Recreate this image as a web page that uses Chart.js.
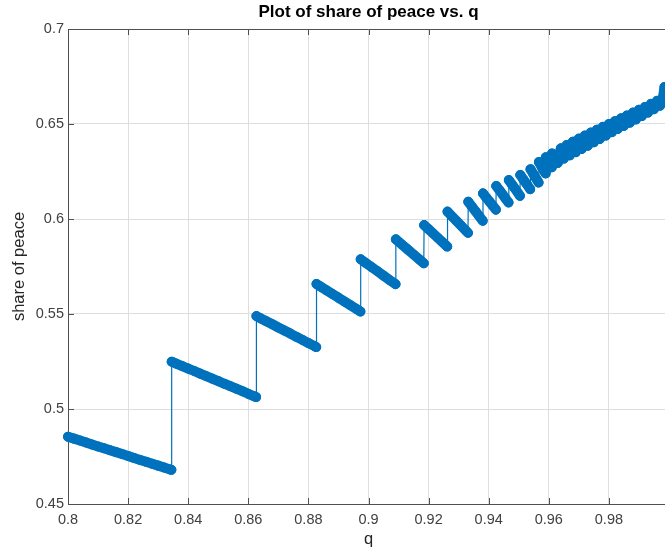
<!DOCTYPE html>
<html><head><meta charset="utf-8">
<script src="https://cdn.jsdelivr.net/npm/chart.js@4/dist/chart.umd.min.js"></script>
<style>
html,body{margin:0;padding:0;background:#fff;overflow:hidden;width:665px;height:548px}
#wrap{position:absolute;left:0;top:0;width:737px;height:548px}
canvas{display:block}
</style></head>
<body><div id="wrap"><canvas id="c" width="737" height="548"></canvas></div>
<script>
// ---- data ----
const q = [
 0.800,0.802,0.804,0.806,0.808,0.810,0.812,0.814,0.816,0.818,0.820,0.822,0.824,0.826,0.828,0.830,0.832,0.834,0.8344,
 0.8345,0.836,0.838,0.840,0.842,0.844,0.846,0.848,0.850,0.852,0.854,0.856,0.858,0.860,0.862,0.8626,
 0.8627,0.864,0.866,0.868,0.870,0.872,0.874,0.876,0.878,0.880,0.882,0.8826,
 0.8827,0.884,0.886,0.888,0.890,0.892,0.894,0.896,0.8973,
 0.8974,0.899,0.901,0.903,0.905,0.907,0.9090,
 0.9091,0.911,0.913,0.915,0.917,0.9184,
 0.9185,0.920,0.9215,0.923,0.9245,0.926,0.9262,
 0.9263,0.9278,0.9293,0.9308,0.9323,0.9331,
 0.9332,0.9344,0.9356,0.9368,0.9380,
 0.9381,0.9392,0.9403,0.9414,0.9424,
 0.9425,0.9436,0.9446,0.9456,0.9466,
 0.9467,0.9477,0.9487,0.9497,0.9504,
 0.9505,0.9515,0.9527,0.9538,
 0.9539,0.9549,0.9559,0.9566,
 0.9567,0.9577,0.9589,
 0.9590,0.9600,0.9610,
 0.9611,0.9620,
 0.963,0.964,0.965,0.966,0.967,0.968,0.969,0.970,0.971,0.972,0.973,0.974,0.975,0.976,0.977,0.978,0.979,0.980,
 0.981,0.982,0.983,0.984,0.985,0.986,0.987,0.988,0.989,0.990,0.991,0.992,0.993,0.994,0.995,0.996,0.997,0.998,
 0.9985,0.999,1.000
];
const share = [
 0.4854,0.4844,0.4834,0.4824,0.4813,0.4803,0.4793,0.4783,0.4773,0.4763,0.4753,0.4742,0.4732,0.4722,0.4712,0.4702,0.4692,0.4682,0.4680,
 0.5249,0.5239,0.5226,0.5213,0.5200,0.5186,0.5173,0.5160,0.5147,0.5133,0.5120,0.5107,0.5094,0.5080,0.5067,0.5063,
 0.5489,0.5478,0.5462,0.5446,0.5429,0.5413,0.5397,0.5380,0.5364,0.5347,0.5331,0.5326,
 0.5658,0.5645,0.5625,0.5605,0.5586,0.5566,0.5546,0.5526,0.5513,
 0.5788,0.5770,0.5747,0.5725,0.5702,0.5679,0.5657,
 0.5893,0.5867,0.5840,0.5813,0.5786,0.5767,
 0.5968,0.5946,0.5924,0.5902,0.5880,0.5858,0.5855,
 0.6039,0.6014,0.5990,0.5965,0.5940,0.5927,
 0.6091,0.6066,0.6041,0.6016,0.5991,
 0.6135,0.6113,0.6091,0.6069,0.6049,
 0.6174,0.6151,0.6130,0.6108,0.6087,
 0.6205,0.6183,0.6161,0.6138,0.6122,
 0.6232,0.6209,0.6183,0.6157,
 0.6262,0.6236,0.6210,0.6192,
 0.6300,0.6272,0.6240,
 0.6325,0.6298,0.6272,
 0.6345,0.6318,
 0.6295,0.6372,0.6318,0.6390,0.6335,0.6407,0.6352,0.6423,0.6369,0.6439,0.6386,0.6455,0.6404,0.6470,0.6421,0.6485,0.6439,0.6500,
 0.6457,0.6515,0.6474,0.6530,0.6490,0.6545,0.6507,0.6560,0.6524,0.6575,0.6542,0.6590,0.6560,0.6606,0.6578,0.6622,0.6596,0.6640,
 0.6695,0.6615,0.6660
];
const xTicks = [0.8,0.82,0.84,0.86,0.88,0.9,0.92,0.94,0.96,0.98,1.0];
const yTicks = [0.45,0.5,0.55,0.6,0.65,0.7];

const FONT = "'Liberation Sans', Arial, Helvetica, sans-serif";
const AXIS = '#505050', GRID = '#dedede', TXT = '#404040', BLUE = '#0072BD';

const boxPlugin = {
  id: 'box',
  beforeDatasetsDraw(chart) {
    const {ctx, chartArea: a, scales: {x, y}} = chart;
    ctx.save();
    ctx.strokeStyle = AXIS; ctx.lineWidth = 1;
    ctx.beginPath();
    ctx.moveTo(a.left, a.top + 0.5); ctx.lineTo(a.right, a.top + 0.5);
    ctx.moveTo(a.right - 0.5, a.top); ctx.lineTo(a.right - 0.5, a.bottom);
    const L = 6;
    xTicks.forEach(v => {
      const px = Math.round(x.getPixelForValue(v)) + 0.5;
      ctx.moveTo(px, a.bottom); ctx.lineTo(px, a.bottom - L);
      ctx.moveTo(px, a.top); ctx.lineTo(px, a.top + L);
    });
    yTicks.forEach(v => {
      const py = Math.round(y.getPixelForValue(v)) + 0.5;
      ctx.moveTo(a.left, py); ctx.lineTo(a.left + L, py);
    });
    ctx.stroke();
    ctx.restore();
  }
};

new Chart(document.getElementById('c'), {
  type: 'scatter',
  data: {
    datasets: [{
      data: q.map((v, i) => ({x: v, y: share[i]})),
      showLine: true,
      clip: false,
      borderColor: BLUE,
      borderWidth: 10,
      borderCapStyle: 'round',
      borderJoinStyle: 'round',
      segment: {
        // the vertical jumps between branches are thin lines; the marker runs form a solid band
        borderWidth: c => (c.p1.parsed.y - c.p0.parsed.y > 0.009 ? 1.2 : 10)
      },
      pointRadius: 4.5,
      pointHoverRadius: 4.5,
      pointBorderWidth: 1,
      pointBackgroundColor: BLUE,
      pointBorderColor: BLUE
    }]
  },
  options: {
    responsive: false,
    animation: false,
    devicePixelRatio: 1,
    layout: {padding: 0},
    plugins: {
      legend: {display: false},
      tooltip: {enabled: false},
      title: {
        display: true,
        text: 'Plot of share of peace vs. q',
        color: '#000',
        font: {family: FONT, size: 17, weight: 'bold', lineHeight: 1.2},
        padding: {top: 2, bottom: 6.6}
      }
    },
    scales: {
      x: {
        type: 'linear', position: 'bottom', min: 0.8, max: 1.0,
        afterBuildTicks: s => { s.ticks = xTicks.map(v => ({value: v})); },
        afterFit: s => { s.height = 44; },
        ticks: {
          callback: v => String(+v.toFixed(2)),
          color: TXT, font: {family: FONT, size: 14.5}, padding: 7,
          maxRotation: 0, autoSkip: false
        },
        grid: {color: GRID, drawTicks: false, lineWidth: 1},
        border: {display: true, color: AXIS, width: 1},
        title: {display: true, text: 'q', color: '#262626',
          font: {family: FONT, size: 16.5, lineHeight: 1}, padding: {top: 0, bottom: 0}}
      },
      y: {
        type: 'linear', position: 'left', min: 0.45, max: 0.7,
        afterBuildTicks: s => { s.ticks = yTicks.map(v => ({value: v})); },
        afterFit: s => { s.width = 68; },
        ticks: {
          callback: v => String(+v.toFixed(2)),
          color: TXT, font: {family: FONT, size: 14.5}, padding: 4,
          autoSkip: false
        },
        grid: {color: GRID, drawTicks: false, lineWidth: 1},
        border: {display: true, color: AXIS, width: 1},
        title: {display: true, text: 'share of peace', color: '#262626',
          font: {family: FONT, size: 16.5, lineHeight: 1}, padding: {top: 11, bottom: 0}}
      },
      y2: {
        type: 'linear', position: 'right', display: true,
        afterFit: s => { s.width = 68; },
        ticks: {display: false},
        grid: {display: false},
        border: {display: false}
      }
    }
  },
  plugins: [boxPlugin]
});
</script>
</body></html>
